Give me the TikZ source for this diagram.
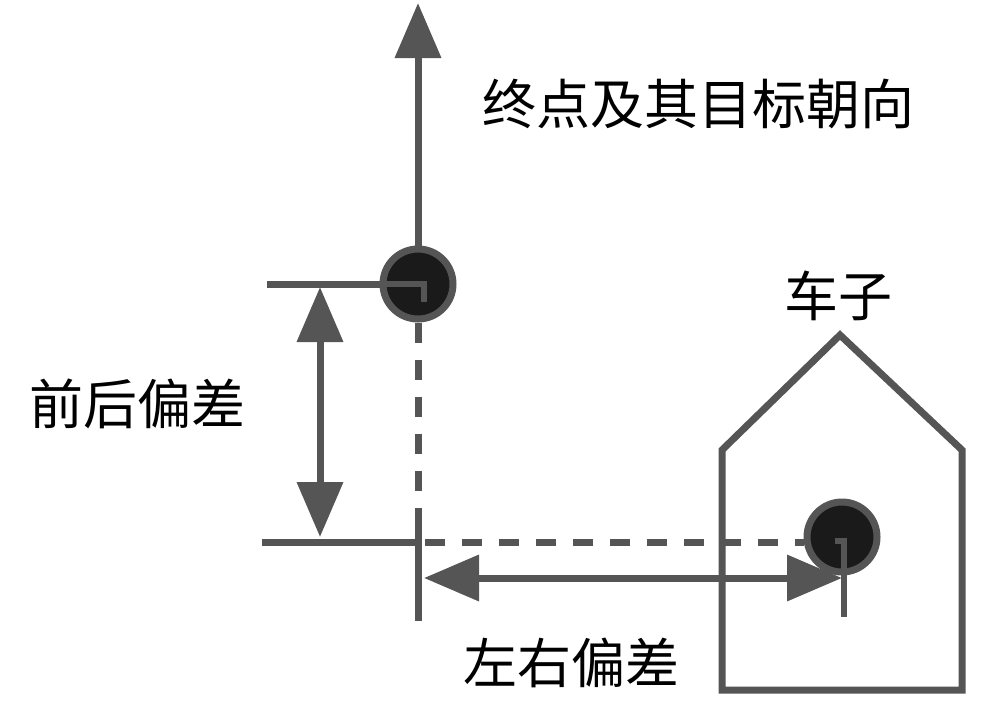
\documentclass[tikz,border=0pt]{standalone}
\usepackage{fontspec}
\newfontfamily\cjk{Noto Sans CJK SC}
\usetikzlibrary{arrows.meta}
\definecolor{ln}{HTML}{555555}
\definecolor{dk}{HTML}{1A1A1A}
\begin{document}
\begin{tikzpicture}[x=1pt,y=-1pt,
  ln/.style={draw=ln,line width=7pt},
  dsh/.style={ln,dash pattern=on 20pt off 17pt},
  tip/.style={-{Triangle[length=55pt,width=45pt]}},
  dtip/.style={{Triangle[length=55pt,width=45pt]}-{Triangle[length=55pt,width=45pt]}},
  dot/.style={circle,draw=ln,line width=7pt,fill=dk,minimum size=70pt,inner sep=0pt},
  lbl/.style={font=\cjk\fontsize{54}{58}\selectfont,text=black,inner sep=0pt}]
\useasboundingbox (0,0) rectangle (1007,716);
% house
\draw[ln,line join=miter] (722,690) -- (722,450) -- (840,335) -- (962,450) -- (962,690) -- cycle;
% coordinates
\coordinate (top) at (418,3);
\coordinate (hl) at (267,284);
\coordinate (bl) at (262,542);
\coordinate (bc) at (418,542);
\coordinate (bt) at (418,520);
\coordinate (bb) at (418,621);
\coordinate (va) at (320,287);
\coordinate (vb) at (320,537);
\coordinate (ha) at (424,578);
\coordinate (hb) at (842,578);
\coordinate (dl) at (425,542);
% dots
\node[dot] (goal) at (418,284) {};
\node[dot] (car) at (842,537) {};
% dashed
\draw[dsh] (goal.south) -- (bt);
\draw[dsh] (dl) -- (car.west |- dl);
% solid lines
\draw[ln] (hl) -- (goal.west);
\draw[ln,tip] (goal.north) -- (top);
\draw[ln] (bl) -- (bc);
\draw[ln] (bt) -- (bb);
\draw[ln,dtip] (va) -- (vb);
\draw[ln,dtip] (ha) -- (hb);
% hooks inside dots
\draw[draw=ln,line width=6pt] (goal.west) -- (424,284) -- (424,302);
\draw[draw=ln,line width=6pt] (835,541) -- (844,541) -- (844,617);
% labels
\node[lbl] (t1) at (698,104) {终点及其目标朝向};
\node[lbl] (t2) at (838,296) {车子};
\node[lbl] (t3) at (137,404) {前后偏差};
\node[lbl] (t4) at (571,663) {左右偏差};
\end{tikzpicture}
\end{document}
